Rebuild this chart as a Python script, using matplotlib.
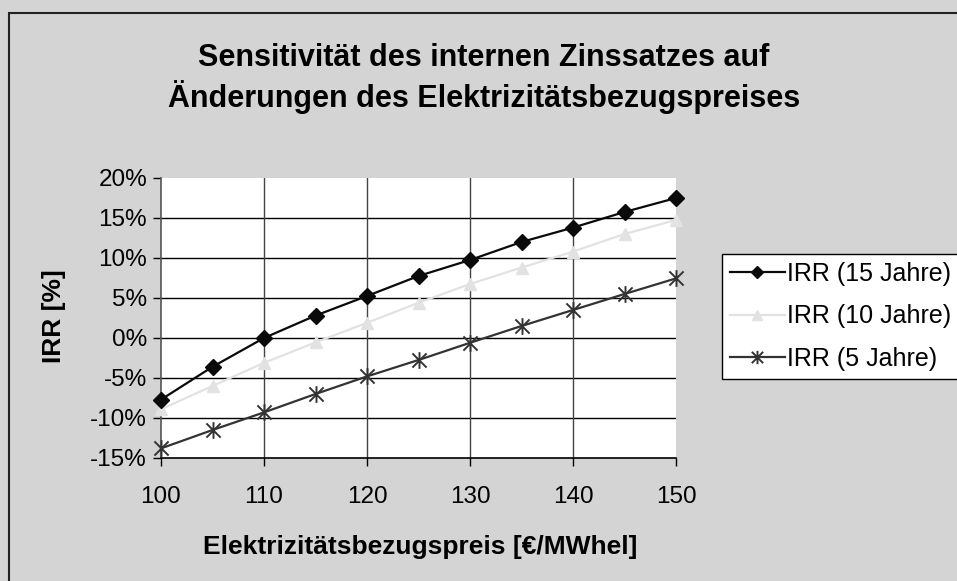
import matplotlib
matplotlib.use("Agg")
import matplotlib.pyplot as plt
from matplotlib.path import Path
from matplotlib.patches import Rectangle
from matplotlib.ticker import FuncFormatter, MultipleLocator

# Electricity purchase price [€/MWhel]
price = [100, 105, 110, 115, 120, 125, 130, 135, 140, 145, 150]

# Internal rate of return in percent for different project lifetimes
irr_15 = [-7.7, -3.6, 0.0, 2.8, 5.25, 7.75, 9.75, 12.0, 13.8, 15.75, 17.5]
irr_10 = [-8.9, -6.0, -3.1, -0.55, 1.9, 4.4, 6.75, 8.8, 10.8, 13.0, 14.75]
irr_5 = [-13.8, -11.5, -9.3, -7.0, -4.8, -2.75, -0.6, 1.5, 3.5, 5.5, 7.45]

series_labels = ["IRR (15 Jahre)", "IRR (10 Jahre)", "IRR (5 Jahre)"]
title_lines = ["Sensitivität des internen Zinssatzes auf",
               "Änderungen des Elektrizitätsbezugspreises"]
xlabel = "Elektrizitätsbezugspreis [€/MWhel]"
ylabel = "IRR [%]"

plt.rcParams["font.family"] = ["Liberation Sans", "DejaVu Sans"]

BG = "#d4d4d4"
W, H = 957, 581
fig = plt.figure(figsize=(W / 100, H / 100), dpi=100, facecolor=BG)

# Chart frame (open to the right and bottom)
fig.patches.append(Rectangle((9 / W, -0.1), 1.2, 1 - 13 / H + 0.1,
                             transform=fig.transFigure, fill=False,
                             edgecolor="#222222", linewidth=1.5))

left, right, top, bottom = 161, 676, 178, 458
ax = fig.add_axes([left / W, 1 - bottom / H, (right - left) / W, (bottom - top) / H])
ax.set_facecolor("white")

ax.set_xlim(100, 150)
ax.set_ylim(-15, 20)

# Grid lines (skip the outer edges)
for yv in range(-10, 20, 5):
    ax.axhline(yv, color="#000000", linewidth=1.0, zorder=1)
for xv in range(110, 150, 10):
    ax.axvline(xv, color="#444444", linewidth=1.0, zorder=1)

star = Path([(0, -1), (0, 1), (-0.85, -0.85), (0.85, 0.85), (-0.85, 0.85), (0.85, -0.85)],
            [Path.MOVETO, Path.LINETO, Path.MOVETO, Path.LINETO, Path.MOVETO, Path.LINETO])

ax.plot(price, irr_15, color="#0a0a0a", linewidth=1.6, marker="D", markersize=8,
        markerfacecolor="#0a0a0a", markeredgecolor="#0a0a0a", label=series_labels[0],
        zorder=4, clip_on=False)
ax.plot(price, irr_10, color="#e2e2e2", linewidth=1.6, marker="^", markersize=9,
        markerfacecolor="#e2e2e2", markeredgecolor="#e2e2e2", label=series_labels[1],
        zorder=3, clip_on=False)
ax.plot(price, irr_5, color="#333333", linewidth=1.6, marker=star, markersize=12,
        markeredgewidth=1.4, markeredgecolor="#333333", label=series_labels[2],
        zorder=3, clip_on=False)

for side in ("top", "right"):
    ax.spines[side].set_visible(False)
ax.spines["left"].set_color("#555555")
ax.spines["bottom"].set_color("#000000")
ax.spines["left"].set_linewidth(1.2)
ax.spines["bottom"].set_linewidth(1.2)

ax.xaxis.set_major_locator(MultipleLocator(10))
ax.yaxis.set_major_locator(MultipleLocator(5))
ax.yaxis.set_major_formatter(FuncFormatter(lambda v, _: f"{v:.0f}%"))
ax.tick_params(axis="both", direction="out", length=6, width=1, colors="#000000",
               labelsize=17.5)
ax.tick_params(axis="x", pad=14)
ax.tick_params(axis="y", pad=4)

fig.text(420 / W, 1 - 547 / H, xlabel, ha="center", va="center", fontsize=19,
         fontweight="bold")
fig.text(54 / W, 1 - 316 / H, ylabel, ha="center", va="center", fontsize=19,
         fontweight="bold", rotation=90)

for i, line in enumerate(title_lines):
    fig.text(484 / W, 1 - (66 + 41 * i) / H, line, ha="center", va="baseline",
             fontsize=22, fontweight="bold")

leg = fig.legend(loc="upper left", bbox_to_anchor=(722 / W, 1 - 254 / H),
                 bbox_transform=fig.transFigure, fontsize=18, frameon=True,
                 fancybox=False, edgecolor="#000000", facecolor="white",
                 framealpha=1, handlelength=2.2, handletextpad=0.1,
                 borderpad=0.3, labelspacing=0.75, borderaxespad=0, markerscale=0.8)
leg.get_frame().set_linewidth(1.0)

fig.savefig("out.png", dpi=100, facecolor=BG)
